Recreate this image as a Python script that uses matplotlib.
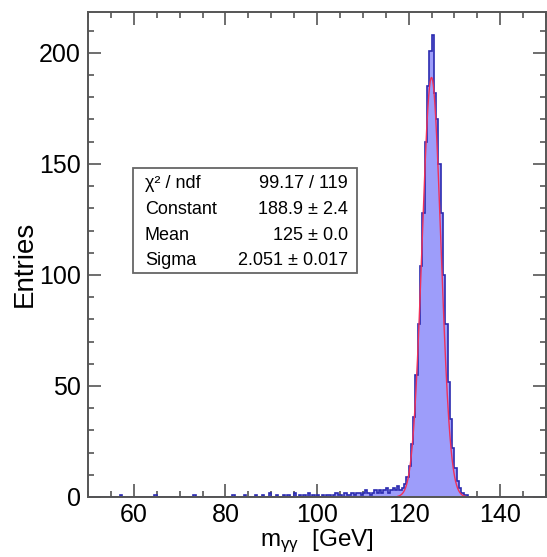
import numpy as np
import matplotlib
matplotlib.use("Agg")
import matplotlib.pyplot as plt
from matplotlib.patches import Rectangle
from matplotlib.ticker import MultipleLocator

plt.rcParams["font.family"] = ["Liberation Sans", "DejaVu Sans"]
plt.rcParams["mathtext.fontset"] = "custom"
plt.rcParams["mathtext.rm"] = "Liberation Sans"
plt.rcParams["mathtext.it"] = "Liberation Sans"

# ---- histogram contents (0.5 GeV bins, 50-150 GeV) ----
x_min, x_max, bin_width = 50.0, 150.0, 0.5

# isolated low-mass entries
sparse_centers = [57.25, 64.75, 73.25, 81.75, 84.25, 86.75, 88.25, 89.75,
                  91.25, 92.75, 93.75, 95.25, 96.25, 97.25, 98.25, 99.25]
sparse_counts = [1, 1, 1, 1, 1, 1, 1, 2, 1, 1, 1, 2, 1, 1, 2, 1]

# low-side tail, bins from 100.0 to 118.0 GeV
tail_start = 100.0
tail_counts = [1, 0, 1, 0, 1, 1, 0, 1, 2, 1, 1, 0, 2, 1, 1, 2, 1, 2,
               2, 1, 2, 3, 2, 1, 2, 3, 2, 3, 2, 3, 4, 2, 3, 4, 3, 5]

# signal peak, bins from 118.0 to 133.0 GeV
peak_start = 118.0
peak_counts = [3, 4, 6, 9, 14, 24, 36, 55, 78, 104,
               128, 160, 185, 201, 208, 182, 170, 150, 128, 100,
               78, 52, 35, 22, 13, 7, 4, 2, 1, 1]

# Gaussian fit results
fit_constant, fit_constant_err = 188.9, 2.4
fit_mean, fit_mean_err = 125.0, 0.0
fit_sigma, fit_sigma_err = 2.051, 0.017
chi2, ndf = 99.17, 119

# ---- fill the bins ----
edges = np.arange(x_min, x_max + bin_width / 2, bin_width)
counts = np.zeros(len(edges) - 1)
for c, n in zip(sparse_centers, sparse_counts):
    counts[int((c - x_min) // bin_width)] += n
i0 = int(round((tail_start - x_min) / bin_width))
counts[i0:i0 + len(tail_counts)] += tail_counts
i1 = int(round((peak_start - x_min) / bin_width))
counts[i1:i1 + len(peak_counts)] += peak_counts

W, H = 547, 557
fig = plt.figure(figsize=(W / 100, H / 100), dpi=100)
L, R, T, B = 88, 546, 12, 497
ax = fig.add_axes([L / W, 1 - B / H, (R - L) / W, (B - T) / H])

fill_col = "#9d9dfa"
line_col = "#2b2bb0"
ax.stairs(counts, edges, fill=True, color=fill_col, zorder=2)
ax.stairs(counts, edges, color=line_col, lw=1.2, zorder=3)

# fitted Gaussian, drawn where it rises above the axis line
xf = np.linspace(x_min, x_max, 4000)
yf = fit_constant * np.exp(-0.5 * ((xf - fit_mean) / fit_sigma) ** 2)
vis = yf > 0.3
ax.plot(xf[vis], yf[vis], color="#f0305a", lw=1.0, zorder=4)

ax.set_xlim(x_min, x_max)
ax.set_ylim(0, 218.4)

frame_col = "#555555"
for s in ax.spines.values():
    s.set_color(frame_col)
    s.set_linewidth(1.4)
    s.set_zorder(5)
ax.xaxis.set_major_locator(MultipleLocator(20))
ax.xaxis.set_minor_locator(MultipleLocator(5))
ax.yaxis.set_major_locator(MultipleLocator(50))
ax.yaxis.set_minor_locator(MultipleLocator(10))
ax.tick_params(which="both", direction="in", top=True, right=True,
               color=frame_col, labelsize=18, width=1.2)
ax.tick_params(which="major", length=9.5)
ax.tick_params(which="minor", length=4.5)
ax.tick_params(axis="x", pad=4)
ax.tick_params(axis="y", pad=5)

fig.text(317 / W, 1 - 541 / H, r"m$_{\mathrm{\gamma\gamma}}$  [GeV]", fontsize=17.5,
         ha="center", va="center")
fig.text(25 / W, 1 - 264 / H, "Entries", fontsize=20, rotation=90,
         ha="center", va="center")

# statistics box
bx0, by0, bx1, by1 = 133, 168, 357, 273
fig.patches.append(Rectangle((bx0 / W, 1 - by1 / H), (bx1 - bx0) / W,
                             (by1 - by0) / H, transform=fig.transFigure,
                             facecolor="white", edgecolor="#666666", lw=1.3,
                             zorder=10))
fs = 13
rows = [
    ("\u03c7\u00b2 / ndf", f"{chi2:.2f} / {ndf}"),
    ("Constant", f"{fit_constant:.1f} \u00b1 {fit_constant_err:.1f}"),
    ("Mean", f"{fit_mean:.0f} \u00b1 {fit_mean_err:.1f}"),
    ("Sigma", f"{fit_sigma:.3f} \u00b1 {fit_sigma_err:.3f}"),
]
name_x, value_x = 145, 348
for k, (name, val) in enumerate(rows):
    y = 1 - (183 + 26 * k) / H
    fig.text(name_x / W, y, name, fontsize=fs, ha="left", va="center", zorder=11)
    fig.text(value_x / W, y, val, fontsize=fs, ha="right", va="center", zorder=11)

fig.savefig("out.png", dpi=100, facecolor="white")
